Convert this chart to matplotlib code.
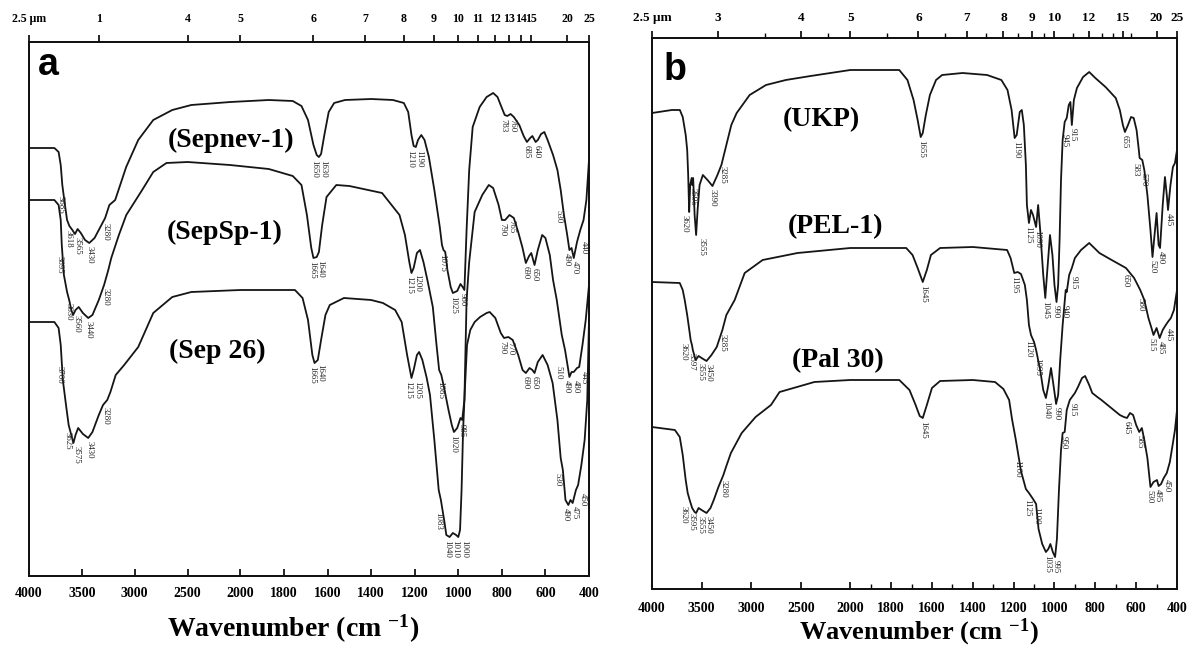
import numpy as np
import matplotlib
matplotlib.use("Agg")
import matplotlib.pyplot as plt

plt.rcParams['font.family'] = ['Liberation Serif', 'DejaVu Serif']
plt.rcParams['font.weight'] = 'bold'
plt.rcParams['mathtext.fontset'] = 'custom'
plt.rcParams['mathtext.rm'] = 'Liberation Serif:bold'
plt.rcParams['mathtext.bf'] = 'Liberation Serif:bold'
plt.rcParams['mathtext.default'] = 'rm'

# ---------------- data (transmittance in arbitrary units) ----------------
sepnev1_wn = [4000,3760,3720,3700,3685,3660,3640,3618,3590,3565,3540,3510,3470,3430,3380,3330,3280,3240,3185,3081,
              2967,2825,2645,2465,2095,1870,1760,1720,1690,1665,1650,1640,1630,1615,1595,1570,1520,1400,1300,1250,
              1230,1215,1205,1195,1185,1170,1155,1135,1110,1085,1075,1068,1060,1050,1035,1025,1005,990,980,972,
              962,950,934,902,870,840,820,800,787,775,760,745,720,700,685,670,660,645,635,620,
              605,590,565,545,530,515,500,490,480,470,455,440,425,412,400]
sepnev1_T = [428,428,424,411,391,371,356,350,346,342,347,343,336,333,338,348,358,371,376,409,
             436,456,466,471,474,476,475,470,456,431,421,419,422,441,464,473,476,477,476,473,
             464,441,430,429,436,441,436,419,386,349,331,326,324,306,289,283,285,292,289,286,
             346,406,449,469,479,483,479,468,461,460,462,459,451,440,434,438,440,434,436,442,
             444,436,421,406,386,361,341,326,328,318,334,346,356,376,416]
sepnev1_peaks = [("3685",3685),("3618",3618),("3565",3565),("3430",3430),("3280",3280),("1650",1650),("1630",1630),
                 ("1210",1210),("1190",1190),("1075",1075),("1025",1025),("980",980),("783",783),("760",760),
                 ("685",685),("640",640),("530",530),("490",490),("470",470),("440",440)]

sepsp1_wn = [4000,3760,3720,3700,3690,3670,3640,3620,3600,3583,3560,3530,3490,3440,3400,3340,3290,3250,3222,3150,
             3080,2930,2825,2700,2500,2100,1870,1760,1720,1695,1675,1665,1650,1640,1625,1605,1560,1500,1350,1270,
             1245,1225,1215,1205,1190,1176,1160,1140,1117,1100,1088,1078,1065,1045,1030,1020,1005,990,982,972,
             962,950,925,890,860,840,815,800,785,765,745,725,705,690,675,665,650,635,615,600,
             580,565,548,525,510,495,490,480,470,455,445,430,415,400]
sepsp1_T = [376,376,371,356,331,301,284,276,266,261,266,269,263,258,261,276,291,306,318,341,
            361,386,404,413,414,411,407,400,391,361,328,318,319,324,351,379,391,390,383,361,
            341,314,303,308,323,326,314,294,269,231,206,201,188,166,151,144,148,158,156,176,
            276,314,364,381,391,388,371,356,356,361,358,344,328,313,320,323,311,326,341,338,
            321,296,276,241,226,206,199,204,204,208,209,231,256,291]
sepsp1_peaks = [("3695",3695),("3630",3630),("3560",3560),("3440",3440),("3280",3280),("1665",1665),("1640",1640),
                ("1215",1215),("1200",1200),("1085",1085),("1020",1020),("985",985),("790",790),("765",765),
                ("690",690),("650",650),("510",510),("490",490),("480",480),("445",445)]

sep26_wn = [4000,3760,3720,3700,3680,3650,3625,3600,3580,3560,3535,3490,3440,3400,3340,3300,3260,3230,3180,3100,
            2967,2825,2645,2465,2000,1750,1715,1690,1670,1660,1645,1630,1610,1590,1525,1400,1346,1290,1260,1235,
            1215,1205,1190,1180,1165,1145,1130,1110,1090,1080,1065,1055,1040,1025,1010,1000,992,985,978,970,
            960,945,925,900,870,856,830,805,790,770,750,725,705,690,673,660,650,635,613,590,
            567,545,530,520,508,495,485,475,460,450,435,420,408,400]
sep26_T = [254,254,248,231,196,171,151,141,133,141,148,142,138,144,161,171,176,184,201,211,
           229,263,279,284,286,286,278,256,221,213,216,236,261,271,278,276,273,266,254,221,
           198,206,221,224,216,198,181,136,86,76,56,41,39,43,41,39,46,86,146,186,
           231,246,254,259,263,264,258,243,238,239,236,221,206,203,208,206,203,214,221,211,
           193,156,118,106,76,71,76,73,86,91,111,136,176,256]
sep26_peaks = [("3700",3700),("3625",3625),("3575",3575),("3430",3430),("3280",3280),("1665",1665),("1640",1640),
               ("1215",1215),("1205",1205),("1083",1083),("1040",1040),("1010",1010),("1000",1000),("790",790),
               ("770",770),("690",690),("650",650),("530",530),("490",490),("475",475),("450",450)]

ukp_wn = [4000,3800,3719,3690,3660,3645,3635,3625,3615,3600,3595,3585,3570,3555,3540,3520,3487,3440,3390,3340,
          3300,3250,3200,3146,3015,2850,2650,2400,2000,1760,1720,1690,1670,1655,1645,1630,1610,1580,1550,1450,
          1330,1260,1230,1210,1195,1185,1170,1160,1150,1140,1135,1125,1115,1105,1090,1080,1070,1055,1045,1035,
          1022,1010,1000,990,982,975,968,960,950,940,930,922,915,905,890,860,830,800,750,700,
          680,665,655,640,625,612,598,588,583,570,560,545,530,520,510,500,490,483,470,459,
          450,444,432,420,410,400]
ukp_T = [476,479,479,472,454,439,414,377,404,411,404,411,374,354,379,404,414,409,403,414,
         424,444,464,476,494,504,509,513,519,519,509,489,469,452,456,474,494,509,514,516,
         514,509,499,479,451,454,477,479,464,424,384,366,379,374,362,384,359,314,291,319,
         354,334,304,287,304,349,409,449,467,471,484,487,464,489,501,512,517,511,502,491,
         479,464,457,464,472,471,459,441,431,429,419,394,359,332,354,376,344,341,384,412,
         394,379,404,422,426,439]
ukp_peaks = [("3620",3620),("3595",3595),("3555",3555),("3390",3390),("3285",3285),("1655",1655),("1190",1190),
             ("1125",1125),("1090",1090),("1045",1045),("990",990),("945",945),("915",915),("655",655),
             ("583",583),("570",570),("520",520),("490",490),("445",445)]

pel1_wn = [4000,3720,3690,3670,3645,3628,3610,3597,3588,3560,3530,3500,3450,3400,3347,3290,3250,3166,3065,2884,
           2532,2000,1726,1695,1670,1645,1625,1605,1560,1400,1232,1215,1197,1180,1164,1145,1135,1125,1115,1100,
           1090,1070,1055,1042,1030,1017,1005,992,982,972,960,945,940,928,915,900,870,830,780,720,
           650,610,580,560,540,525,515,500,485,470,455,445,430,415,400]
pel1_T = [307,306,299,289,274,262,249,244,239,229,233,231,228,234,242,259,274,289,316,329,
          336,341,341,334,321,307,319,334,341,342,339,331,316,317,315,304,289,264,254,247,
          239,219,199,191,204,221,204,185,194,229,264,299,297,314,321,331,339,346,336,329,
          321,311,299,289,271,261,254,261,251,259,264,267,271,279,299]
pel1_peaks = [("3620",3620),("3597",3597),("3555",3555),("3450",3450),("3285",3285),("1645",1645),("1195",1195),
              ("1120",1120),("1095",1095),("1040",1040),("990",990),("940",940),("915",915),("650",650),
              ("580",580),("515",515),("485",485),("445",445)]

pal30_wn = [4000,3769,3720,3690,3660,3640,3620,3595,3570,3555,3530,3500,3450,3410,3377,3330,3280,3250,3204,3095,
            2955,2800,2713,2362,2000,1760,1710,1680,1660,1645,1625,1600,1560,1400,1291,1250,1222,1208,1190,1164,
            1140,1125,1105,1090,1078,1060,1042,1030,1020,1008,997,988,978,968,960,950,940,925,900,885,
            865,850,830,815,790,770,740,710,680,660,645,630,615,600,585,572,560,545,530,515,
            498,490,478,465,450,435,420,410,400]
pal30_T = [162,159,152,134,109,96,89,81,77,76,81,79,76,81,89,102,114,123,136,156,
           172,184,197,207,209,209,199,184,173,171,184,201,208,209,207,200,189,170,150,118,
           100,96,90,85,60,45,37,40,45,37,32,50,99,139,156,157,179,189,196,202,
           211,213,204,196,192,189,184,179,174,172,171,176,174,164,157,161,149,131,102,107,
           109,103,105,111,116,127,146,159,179]
pal30_peaks = [("3620",3620),("3595",3595),("3555",3555),("3450",3450),("3280",3280),("1645",1645),("1100",1185),
               ("1125",1125),("1100",1100),("1035",1035),("995",995),("950",950),("915",915),("645",645),
               ("585",585),("530",530),("495",495),("450",450)]

bottom_ticks = [4000, 3500, 3000, 2500, 2000, 1800, 1600, 1400, 1200, 1000, 800, 600, 400]
bottom_minor_b = [1900, 1700, 1500, 1300, 1100, 900, 700, 500]
top_um_a = [2.5, 3, 4, 5, 6, 7, 8, 9, 10, 11, 12, 13, 14, 15, 20, 25]
top_lbl_a = ["2.5 μm", "1", "4", "5", "6", "7", "8", "9", "10", "11", "12", "13", "14", "15", "20", "25"]
top_um_b = [2.5, 3, 4, 5, 6, 7, 8, 9, 10, 12, 15, 20, 25]
top_lbl_b = ["2.5 μm", "3", "4", "5", "6", "7", "8", "9", "10", "12", "15", "20", "25"]
top_minor_um_b = [3.5, 4.5, 5.5, 6.5, 7.5, 8.5, 9.5, 11, 13, 14, 16]

# ---------------- scale: x2 expansion below 2000 cm-1 ----------------
K = 2.06
def fwd(w):
    w = np.asarray(w, dtype=float)
    return np.where(w >= 2000, w, 2000 + (w - 2000) * K)

def inv(u):
    u = np.asarray(u, dtype=float)
    return np.where(u >= 2000, u, 2000 + (u - 2000) / K)

W, H = 1190, 650
fig = plt.figure(figsize=(W / 100, H / 100), dpi=100)
fig.patch.set_facecolor('white')

def make_panel(rect, ylim, top_um, top_lbl, top_minor, bminor, tpad, bpad, tsize):
    ax = fig.add_axes(rect)
    ax.set_xscale('function', functions=(fwd, inv))
    ax.set_xlim(4000, 400)
    ax.set_ylim(*ylim)
    ax.set_yticks([])
    ax.set_xticks(bottom_ticks)
    ax.set_xticklabels([str(t) for t in bottom_ticks])
    if bminor:
        ax.set_xticks(bminor, minor=True)
    ax.tick_params(axis='x', which='major', direction='in', length=5, width=1.2, pad=bpad, labelsize=10)
    ax.tick_params(axis='x', which='minor', direction='in', length=3.5, width=1.0)
    for s in ax.spines.values():
        s.set_linewidth(1.3)
        s.set_color('#111111')
    ax2 = ax.twiny()
    ax2.set_xscale('function', functions=(fwd, inv))
    ax2.set_xlim(4000, 400)
    ax2.set_xticks([10000.0 / u for u in top_um])
    ax2.set_xticklabels(top_lbl)
    if top_minor:
        ax2.set_xticks([10000.0 / u for u in top_minor], minor=True)
    ax2.tick_params(axis='x', which='major', direction='out', length=5, width=1.2, pad=tpad, labelsize=tsize)
    ax2.tick_params(axis='x', which='minor', direction='out', length=3.5, width=1.0)
    for s in ax2.spines.values():
        s.set_linewidth(1.3)
        s.set_color('#111111')
    return ax

def draw_curve(ax, wn, T, peaks):
    ax.plot(wn, T, color='#151515', lw=1.3, solid_joinstyle='round')
    wn_a = np.asarray(wn, float)[::-1]
    T_a = np.asarray(T, float)[::-1]
    xs, ys = [], []
    for txt, w in peaks:
        grid = np.linspace(w - 10, w + 10, 21)
        tmin = np.interp(grid, wn_a, T_a).min()
        dx, dy = ax.transData.transform((w, tmin))
        xs.append(dx)
        ys.append(dy)
    xs = np.array(xs)
    order = np.argsort(xs)
    p = xs[order].copy()
    minsep = 8.5
    for _ in range(200):
        moved = False
        for i in range(len(p) - 1):
            d = minsep - (p[i + 1] - p[i])
            if d > 0.01:
                p[i] -= d / 2
                p[i + 1] += d / 2
                moved = True
        if not moved:
            break
    newx = np.empty_like(xs)
    newx[order] = p
    invt = ax.transData.inverted()
    for (txt, w), xd, yd in zip(peaks, newx, ys):
        xw, yw = invt.transform((xd, yd - 3))
        ax.text(xw, yw, txt, rotation=-90, ha='center', va='top', fontsize=6.3,
                fontweight='normal', color='#222222', family=['Liberation Serif', 'DejaVu Serif'])

# panel a
axa = make_panel([29 / W, (H - 576) / H, 560 / W, 534 / H], (0, 534), top_um_a, top_lbl_a, None, None, 7, 8, 8.6)
draw_curve(axa, sepnev1_wn, sepnev1_T, sepnev1_peaks)
draw_curve(axa, sepsp1_wn, sepsp1_T, sepsp1_peaks)
draw_curve(axa, sep26_wn, sep26_T, sep26_peaks)
axa.text(0.361, 0.816, "(Sepnev-1)", transform=axa.transAxes, ha='center', va='center', fontsize=20, fontweight='bold')
axa.text(0.350, 0.644, "(SepSp-1)", transform=axa.transAxes, ha='center', va='center', fontsize=20, fontweight='bold')
axa.text(0.336, 0.420, "(Sep 26)", transform=axa.transAxes, ha='center', va='center', fontsize=20, fontweight='bold')
axa.text(0.016, 0.938, "a", transform=axa.transAxes, ha='left', va='baseline', fontsize=27,
         fontweight='bold', family=['Liberation Sans', 'DejaVu Sans'])

# panel b
axb = make_panel([652 / W, (H - 589) / H, 525 / W, 551 / H], (0, 551), top_um_b, top_lbl_b, top_minor_um_b,
                 bottom_minor_b, 5, 9, 9.5)
draw_curve(axb, ukp_wn, ukp_T, ukp_peaks)
draw_curve(axb, pel1_wn, pel1_T, pel1_peaks)
draw_curve(axb, pal30_wn, pal30_T, pal30_peaks)
axb.text(0.322, 0.851, "(UKP)", transform=axb.transAxes, ha='center', va='center', fontsize=20, fontweight='bold')
axb.text(0.350, 0.657, "(PEL-1)", transform=axb.transAxes, ha='center', va='center', fontsize=20, fontweight='bold')
axb.text(0.354, 0.414, "(Pal 30)", transform=axb.transAxes, ha='center', va='center', fontsize=20, fontweight='bold')
axb.text(0.021, 0.924, "b", transform=axb.transAxes, ha='left', va='baseline', fontsize=27,
         fontweight='bold', family=['Liberation Sans', 'DejaVu Sans'])

fig.text(293 / W, 1 - 629 / H, "Wavenumber (cm $^{-1}$)", ha='center', va='center', fontsize=20, fontweight='bold')
fig.text(919 / W, 1 - 632 / H, "Wavenumber (cm $^{-1}$)", ha='center', va='center', fontsize=19, fontweight='bold')

fig.savefig("out.png", dpi=100, facecolor='white')
